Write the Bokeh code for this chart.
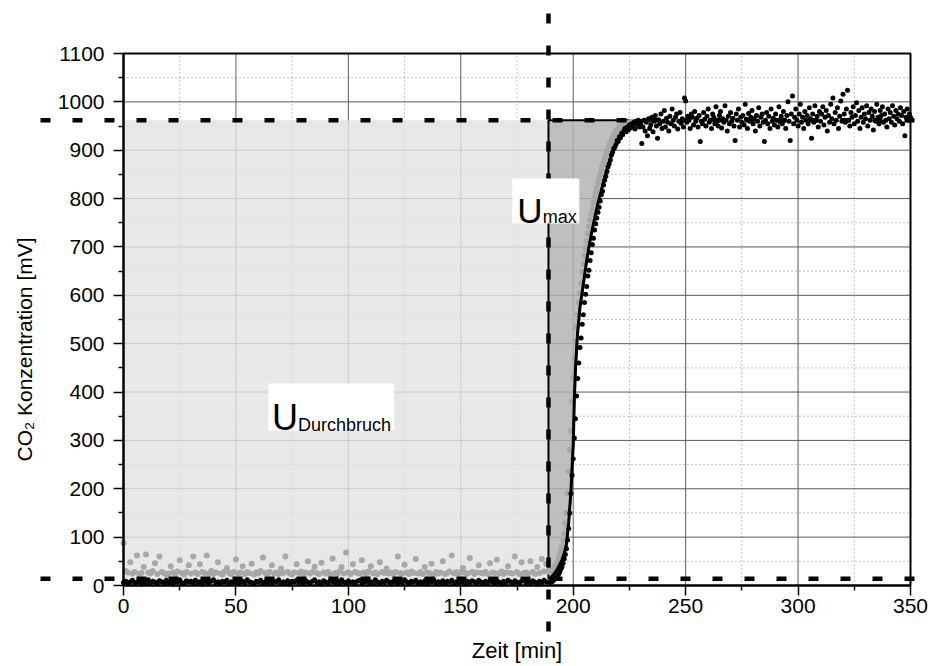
import numpy as np
from bokeh.plotting import figure
from bokeh.models import FixedTicker, BoxAnnotation, Label, LinearAxis
from bokeh.embed import file_html
from bokeh.resources import INLINE

# ---------------- data ----------------
x_lo, x_hi = 0, 350
y_lo, y_hi = 0, 1100
x_ticks = [0, 50, 100, 150, 200, 250, 300, 350]
x_minor = [25, 75, 125, 175, 225, 275, 325]
y_ticks = [0, 100, 200, 300, 400, 500, 600, 700, 800, 900, 1000, 1100]
y_minor = [50, 150, 250, 350, 450, 550, 650, 750, 850, 950, 1050]

t_break = 189      # Durchbruchszeit [min]
u_max = 962        # plateau [mV]
u_base = 14        # baseline [mV]

# fitted curve
x_fit = [189, 190, 191, 192, 193, 194, 195, 196, 197, 198, 199, 199.5, 200, 200.5,
         201, 201.5, 202, 203, 204, 205, 206, 207, 208, 209, 210, 211, 212, 213, 214,
         215, 216, 217, 218, 219, 220, 222, 224, 226, 228, 230, 232]
y_fit = [14, 16, 21, 27, 34, 43, 53, 66, 85, 130, 195, 245, 290, 385,
         445, 490, 525, 575, 607, 640, 672, 700, 725, 748, 770, 790, 808, 826, 843,
         860, 875, 888, 900, 910, 918, 935, 946, 951, 957, 961, 962]

# grey series: baseline (t = 0..188, 1 min steps)
grey_base = [88, 30, 27, 48, 25, 28, 62, 24, 26, 38,
             64, 27, 25, 30, 46, 24, 60, 28, 26, 22,
             25, 40, 27, 24, 29, 52, 26, 23, 28, 42,
             25, 60, 27, 24, 44, 28, 26, 62, 25, 30,
             24, 27, 48, 25, 23, 29, 36, 26, 24, 28,
             54, 25, 27, 40, 24, 28, 26, 45, 23, 27,
             25, 30, 58, 26, 24, 28, 42, 25, 27, 24,
             35, 26, 60, 28, 25, 23, 27, 44, 26, 29,
             24, 27, 50, 25, 28, 39, 26, 24, 47, 27,
             25, 28, 23, 56, 26, 24, 29, 38, 25, 68,
             27, 24, 44, 28, 26, 25, 52, 27, 23, 29,
             40, 25, 27, 24, 48, 28, 26, 35, 25, 27,
             24, 28, 60, 26, 25, 43, 27, 24, 29, 26,
             55, 25, 28, 24, 38, 27, 26, 45, 23, 28,
             25, 27, 50, 24, 26, 29, 62, 25, 28, 24,
             27, 36, 26, 25, 57, 28, 24, 27, 42, 26,
             25, 28, 24, 46, 27, 26, 53, 25, 29, 24,
             27, 40, 26, 25, 60, 28, 24, 48, 26, 27,
             25, 50, 28, 24, 38, 26, 55, 29, 45]
# grey series: rise (t = 189..226, 0.5 min steps)
grey_rise = [30, 28, 32, 30, 34, 36, 40, 44, 48, 55,
             62, 70, 80, 92, 108, 128, 150, 190, 235, 280,
             320, 380, 430, 470, 505, 535, 560, 585, 605, 625,
             648, 665, 682, 698, 712, 728, 742, 755, 768, 780,
             792, 802, 812, 822, 832, 842, 850, 860, 868, 876,
             884, 890, 897, 903, 910, 915, 921, 927, 932, 936,
             940, 942, 945, 947, 949, 950, 952, 951, 954, 953,
             955, 956, 957, 958, 959]

# black series: baseline (t = 0..188, 1 min steps)
black_base = [6, 9, 4, 8, 11, 5, 7, 10, 3, 8,
              6, 12, 5, 9, 7, 4, 10, 8, 6, 11,
              5, 8, 3, 9, 7, 12, 6, 4, 10, 7,
              9, 5, 11, 6, 8, 3, 10, 7, 5, 9,
              12, 6, 8, 4, 9, 7, 11, 5, 8, 6,
              10, 4, 7, 9, 5, 12, 8, 6, 3, 9,
              7, 11, 5, 8, 6, 10, 4, 9, 7, 12,
              5, 8, 6, 10, 3, 9, 7, 11, 6, 8,
              4, 10, 7, 5, 9, 12, 6, 8, 3, 10,
              7, 5, 11, 8, 6, 9, 4, 12, 7, 5,
              10, 6, 8, 3, 9, 11, 5, 7, 10, 6,
              8, 4, 12, 7, 5, 9, 6, 11, 8, 3,
              9, 7, 5, 10, 6, 12, 8, 4, 9, 7,
              11, 5, 8, 6, 10, 3, 9, 7, 12, 5,
              8, 6, 10, 4, 9, 7, 11, 5, 8, 6,
              12, 7, 3, 9, 6, 10, 8, 5, 11, 7,
              4, 9, 6, 12, 8, 5, 10, 7, 3, 9,
              6, 11, 8, 5, 10, 7, 4, 9, 12, 6,
              8, 5, 10, 7, 3, 9, 6, 11, 8]
# black series: rise (t = 189.5..229.5, 0.5 min steps)
black_rise = [6, 8, 7, 10, 12, 14, 17, 20, 24, 28,
              34, 38, 46, 55, 64, 76, 94, 118, 150, 190,
              228, 262, 305, 345, 392, 428, 460, 492, 512, 540,
              560, 585, 602, 618, 640, 652, 672, 688, 705, 718,
              735, 748, 760, 772, 782, 795, 808, 815, 828, 838,
              846, 856, 866, 872, 880, 890, 896, 903, 906, 912,
              920, 918, 928, 926, 935, 932, 940, 945, 938, 948,
              942, 952, 946, 955, 950, 958, 944, 960, 953, 962,
              948]
# black series: plateau (t = 230..350, 0.5 min steps)
black_plateau = [955, 914, 948, 962, 940, 958, 930, 965, 945, 952,
                 968, 938, 960, 972, 950, 925, 963, 955, 975, 945,
                 960, 982, 948, 966, 958, 940, 970, 955, 985, 962,
                 950, 968, 975, 944, 960, 978, 956, 965, 948, 1008,
                 1002, 958, 970, 962, 945, 975, 968, 952, 980, 960,
                 966, 948, 972, 918, 960, 955, 978, 964, 950, 970,
                 985, 958, 962, 945, 975, 968, 955, 990, 960, 950,
                 972, 980, 946, 965, 958, 992, 962, 940, 970, 955,
                 978, 960, 966, 950, 920, 975, 962, 985, 948, 968,
                 958, 972, 952, 995, 964, 945, 976, 960, 968, 982,
                 955, 965, 940, 972, 960, 988, 950, 968, 975, 958,
                 918, 962, 978, 955, 970, 945, 985, 960, 966, 952,
                 975, 962, 948, 990, 958, 970, 955, 980, 962, 945,
                 972, 1000, 960, 920, 975, 1012, 955, 968, 985, 962,
                 950, 975, 995, 958, 968, 945, 980, 962, 972, 955,
                 988, 965, 925, 975, 958, 992, 962, 970, 948, 980,
                 960, 975, 990, 952, 968, 982, 940, 972, 958, 995,
                 965, 1008, 955, 978, 962, 988, 945, 970, 1002, 960,
                 1016, 975, 958, 985, 1024, 962, 950, 978, 968, 990,
                 955, 972, 998, 960, 982, 945, 968, 988, 958, 975,
                 965, 992, 950, 978, 962, 985, 970, 942, 980, 960,
                 995, 968, 955, 982, 972, 990, 958, 975, 962, 948,
                 985, 965, 978, 958, 992, 970, 952, 982, 965, 975,
                 960, 988, 972, 955, 980, 930, 968, 985, 962, 975, 968]

x_title = "Zeit [min]"
y_title = "CO\u2082 Konzentration [mV]"

# sample times
t_grey = list(np.arange(len(grey_base)) * 1.0) + list(189 + 0.5 * np.arange(len(grey_rise)))
u_grey = grey_base + grey_rise
t_black = (list(np.arange(len(black_base)) * 1.0)
           + list(189.5 + 0.5 * np.arange(len(black_rise)))
           + list(230 + 0.5 * np.arange(len(black_plateau))))
u_black = black_base + black_rise + black_plateau

FONT = "Liberation Sans"

# ---------------- layout (canvas pixels) ----------------
W, H = 931, 666
FL, FR, FT, FB = 123, 910, 53, 585          # plot box edges on the canvas
kx = (FR - FL) / (x_hi - x_lo)               # px per minute
ky = (FB - FT) / (y_hi - y_lo)               # px per mV
x_range = (x_lo - FL / kx, x_hi + (W - FR) / kx)
y_range = (y_lo - (H - FB) / ky, y_hi + FT / ky)

# the frame fills the whole canvas; the visible axes sit at fixed locations
p = figure(width=W, height=H, x_range=x_range, y_range=y_range,
           output_backend="svg", toolbar_location=None,
           min_border_left=0, min_border_right=0, min_border_top=0, min_border_bottom=0)
p.title.visible = False
p.background_fill_color = "white"
p.border_fill_color = "white"
p.outline_line_color = None
p.xgrid.visible = False
p.ygrid.visible = False

xax = p.xaxis[0]
yax = p.yaxis[0]
xax.fixed_location = y_lo
yax.fixed_location = x_lo
xax.bounds = (x_lo, x_hi)
yax.bounds = (y_lo, y_hi)
xax.ticker = FixedTicker(ticks=x_ticks, minor_ticks=x_minor)
yax.ticker = FixedTicker(ticks=y_ticks, minor_ticks=y_minor)

for ax in (xax, yax):
    ax.axis_line_color = "black"
    ax.axis_line_width = 2
    ax.major_tick_in = 0
    ax.major_tick_out = 10
    ax.minor_tick_in = 0
    ax.minor_tick_out = 5
    ax.major_tick_line_color = "black"
    ax.major_tick_line_width = 1.5
    ax.minor_tick_line_color = "black"
    ax.minor_tick_line_width = 1.5
    ax.major_label_text_font = FONT
    ax.major_label_text_font_size = "21px"
    ax.major_label_text_color = "black"
    ax.axis_label_text_font = FONT
    ax.axis_label_text_font_size = "22px"
    ax.axis_label_text_font_style = "normal"
    ax.axis_label_text_color = "black"
xax.major_label_standoff = 3
yax.major_label_standoff = 9
xax.axis_label = x_title
xax.axis_label_standoff = 22

ytitle_ax = LinearAxis(fixed_location=x_lo, ticker=FixedTicker(ticks=[], minor_ticks=[]),
                       bounds=(y_lo, 975), axis_line_color=None, major_tick_out=0,
                       major_tick_in=0, minor_tick_out=0, minor_tick_in=0,
                       major_label_standoff=0,
                       axis_label=y_title, axis_label_text_font=FONT,
                       axis_label_text_font_size="21px", axis_label_text_font_style="normal",
                       axis_label_text_color="black", axis_label_standoff=88)
p.add_layout(ytitle_ax, "left")

# grid inside the plot box
nX, nx = len(x_ticks), len(x_minor)
nY, ny = len(y_ticks), len(y_minor)
p.segment(x0=x_minor, y0=[y_lo] * nx, x1=x_minor, y1=[y_hi] * nx,
          line_color="#8a8a8a", line_width=1, line_dash="1 3")
p.segment(x0=[x_lo] * ny, y0=y_minor, x1=[x_hi] * ny, y1=y_minor,
          line_color="#8a8a8a", line_width=1, line_dash="1 3")
p.segment(x0=x_ticks, y0=[y_lo] * nX, x1=x_ticks, y1=[y_hi] * nX,
          line_color="#5a5a5a", line_width=1)
p.segment(x0=[x_lo] * nY, y0=y_ticks, x1=[x_hi] * nY, y1=y_ticks,
          line_color="#5a5a5a", line_width=1)

# shaded areas
p.quad(left=[x_lo], right=[t_break], bottom=[u_base], top=[u_max],
       fill_color="#e3e3e3", fill_alpha=0.82, line_color=None)
p.patch(x_fit + [t_break], y_fit + [u_max], fill_color="#b1b1b1", fill_alpha=0.82,
        line_color="black", line_width=2)

# data
p.scatter(t_grey, u_grey, size=6, color="#a8a8a8", line_color=None)
p.scatter(t_black, u_black, size=5, color="black", line_color=None)

# fit
p.line(x_fit, y_fit, line_color="black", line_width=3)

# plot box
p.quad(left=[x_lo], right=[x_hi], bottom=[y_lo], top=[y_hi],
       fill_color=None, line_color="black", line_width=2)

# dashed guide lines, running past the plot box
gx0 = x_lo - (FL - 40) / kx          # starts at x = 40 px on the canvas
gx1 = x_hi + (W - FR + 10) / kx
gy0 = y_hi + (FT - 13) / ky          # starts at y = 13 px on the canvas
gy1 = y_lo - (640 - FB) / ky         # ends above the x-axis title
dash = dict(line_color="black", line_width=4.5, line_dash="10 22")
p.line([gx0, gx1], [u_max, u_max], **dash)
p.line([gx0, gx1], [u_base, u_base], **dash)
p.line([t_break, t_break], [gy0, gy1], **dash)

# U labels
p.add_layout(BoxAnnotation(left=64.4, right=120.4, bottom=320.5, top=417.7,
                           fill_color="white", fill_alpha=1, line_color=None))
p.add_layout(BoxAnnotation(left=172.9, right=202.7, bottom=748.6, top=841.6,
                           fill_color="white", fill_alpha=1, line_color=None))
lab = dict(text_font=FONT, text_color="black", text_baseline="alphabetic")
p.add_layout(Label(x=66.0, y=348.4, text="U", text_font_size="36px", **lab))
p.add_layout(Label(x=77.6, y=332.7, text="Durchbruch", text_font_size="18px", **lab))
p.add_layout(Label(x=175.1, y=775.4, text="U", text_font_size="35px", **lab))
p.add_layout(Label(x=186.5, y=761.5, text="max", text_font_size="18px", **lab))

open("out.html", "w").write(file_html(p, INLINE))
